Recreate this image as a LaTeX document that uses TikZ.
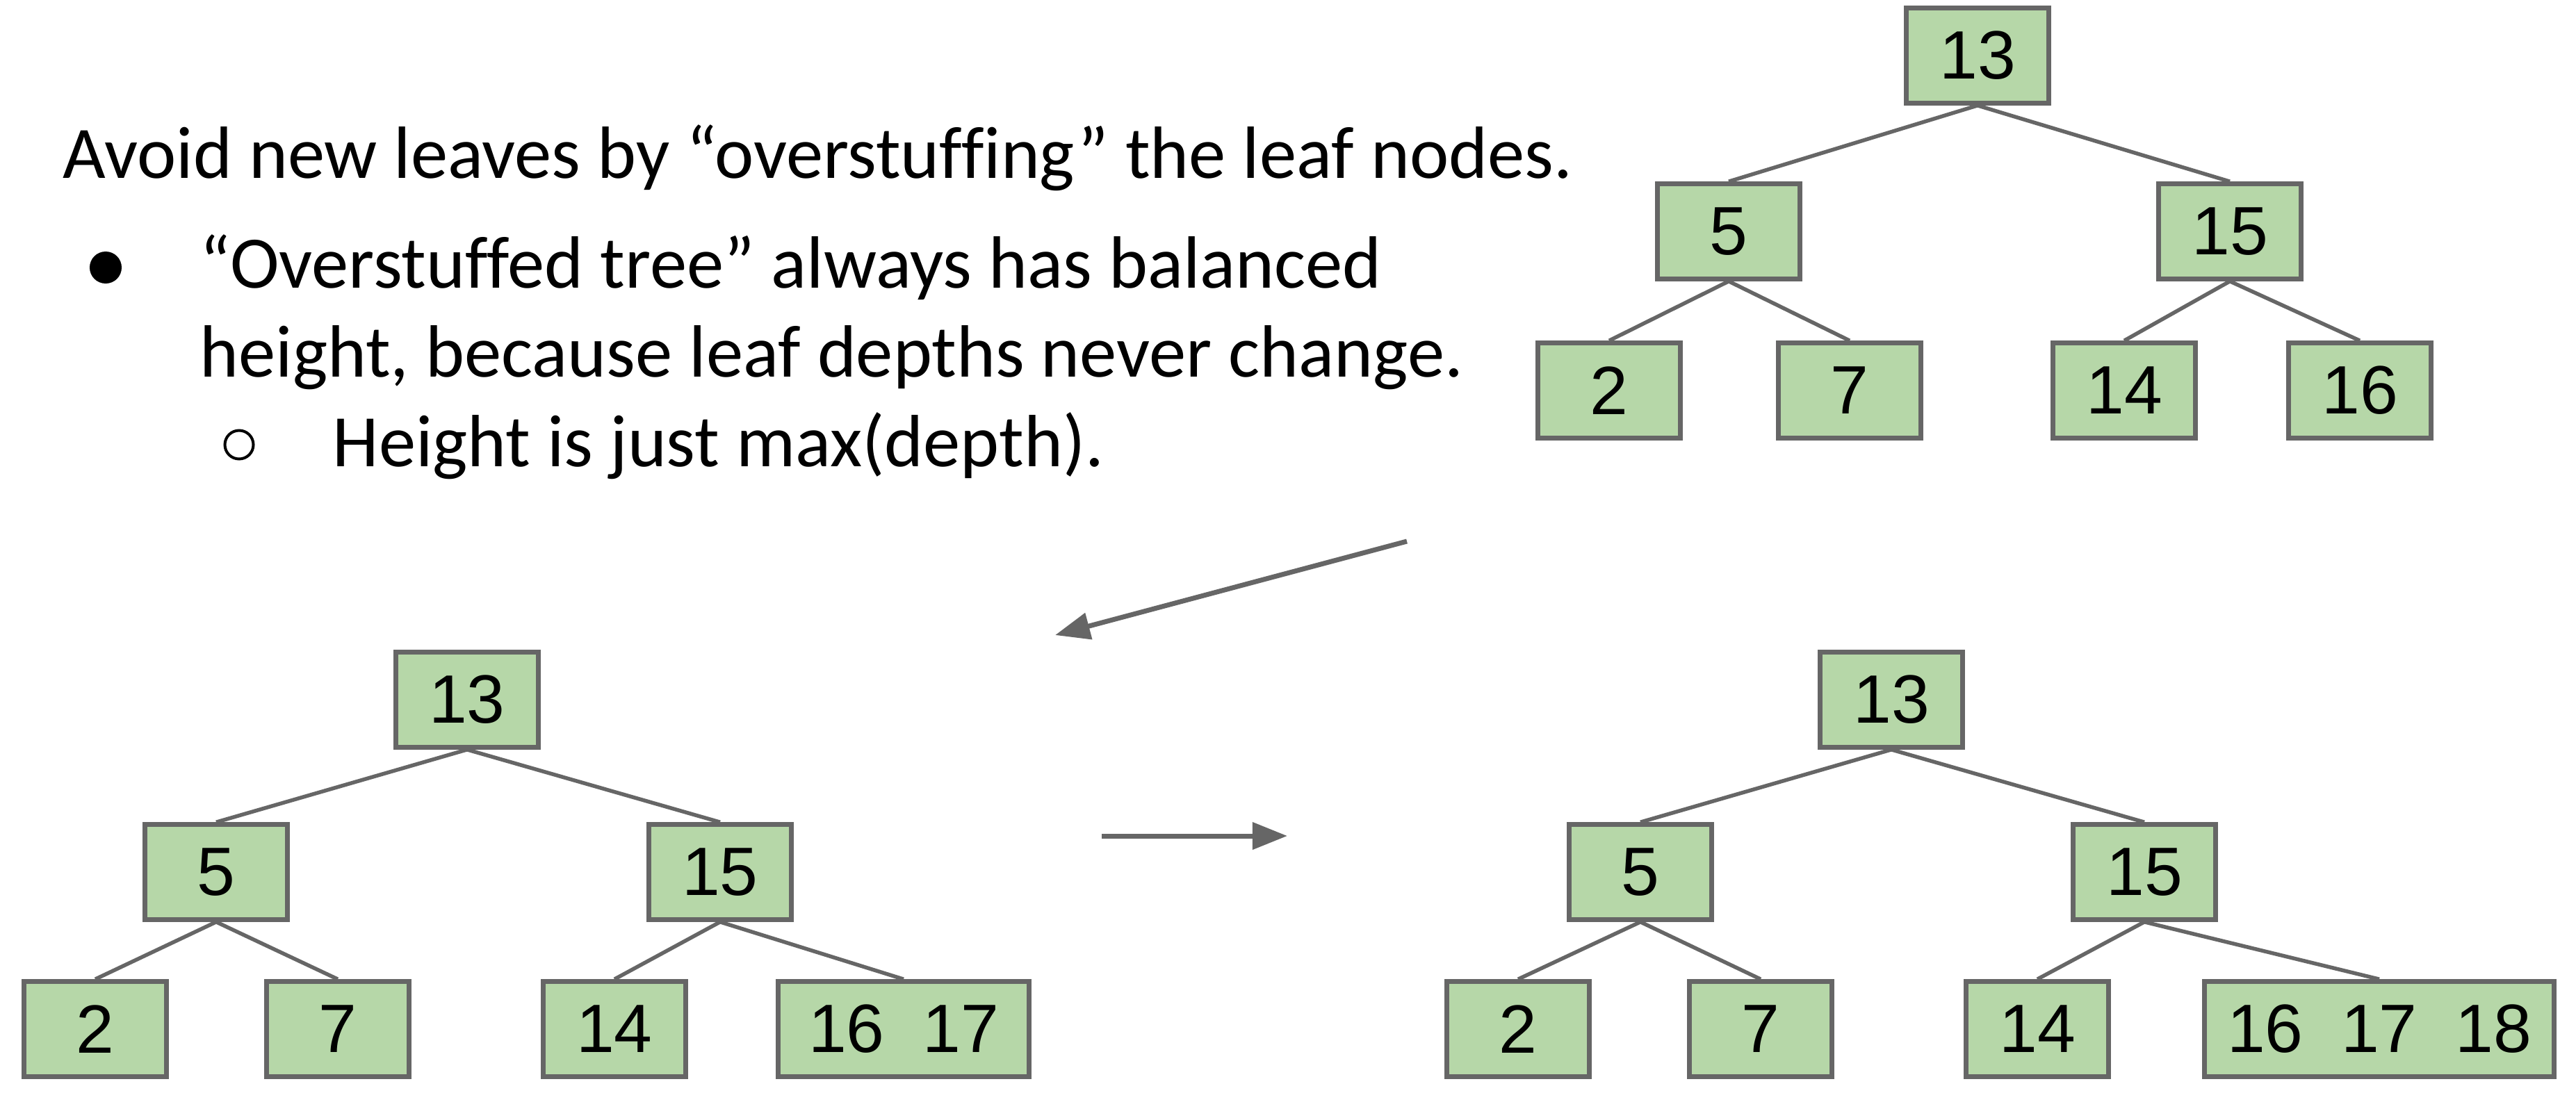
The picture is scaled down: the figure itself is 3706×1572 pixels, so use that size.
\documentclass[tikz,border=0pt]{standalone}
\usepackage{fontspec}
\newfontfamily\carl[Ligatures=NoCommon]{Carlito}
\newfontfamily\arialf{Liberation Sans}
\usetikzlibrary{arrows.meta}
\definecolor{nfill}{HTML}{B6D7A8}
\definecolor{ngray}{HTML}{666666}
\tikzset{
  tnode/.style={draw=ngray, fill=nfill, line width=0.065cm, minimum width=2.05cm,
    minimum height=1.37cm, inner sep=0pt, font=\arialf\fontsize{28}{28}\selectfont},
  tedge/.style={draw=ngray, line width=0.055cm},
  bigarrow/.style={draw=ngray, line width=0.07cm, -{Triangle[length=0.5cm,width=0.38cm]}},
  txt/.style={anchor=base west, inner sep=0pt, font=\carl\fontsize{30.3}{30.3}\selectfont}
}
\begin{document}
\begin{tikzpicture}[x=0.01cm,y=-0.01cm]
\useasboundingbox[fill=white] (0,0) rectangle (3706,1572);

% text
\node[txt] (l1) at (90,256) {Avoid new leaves by “overstuffing” the leaf nodes.};
\node[circle, fill=black, inner sep=0pt, minimum size=0.46cm] (b1) at (152,385) {};
\node[txt] (l2) at (287,414) {“Overstuffed tree” always has balanced};
\node[txt] (l3) at (287,542) {height, because leaf depths never change.};
\node[circle, draw=black, line width=0.04cm, inner sep=0pt, minimum size=0.41cm] (b2) at (344,640) {};
\node[txt] (l4) at (478,671) {Height is just max(depth).};

% top tree
\node[tnode] (a13) at (2845,80) {13};
\node[tnode] (a5) at (2487,333) {5};
\node[tnode] (a15) at (3208,333) {15};
\node[tnode] (a2) at (2315,562) {2};
\node[tnode] (a7) at (2661,562) {7};
\node[tnode] (a14) at (3056,562) {14};
\node[tnode] (a16) at (3395,562) {16};
\draw[tedge] (a13.south) -- (a5.north);
\draw[tedge] (a13.south) -- (a15.north);
\draw[tedge] (a5.south) -- (a2.north);
\draw[tedge] (a5.south) -- (a7.north);
\draw[tedge] (a15.south) -- (a14.north);
\draw[tedge] (a15.south) -- (a16.north);

% bottom-left tree
\node[tnode] (b13) at (672,1007) {13};
\node[tnode] (b5) at (311,1255) {5};
\node[tnode] (b15) at (1036,1255) {15};
\node[tnode] (b2n) at (137,1481) {2};
\node[tnode] (b7) at (486,1481) {7};
\node[tnode] (b14) at (884,1481) {14};
\node[tnode, minimum width=3.61cm] (b1617) at (1300,1481) {16\ \ 17};
\draw[tedge] (b13.south) -- (b5.north);
\draw[tedge] (b13.south) -- (b15.north);
\draw[tedge] (b5.south) -- (b2n.north);
\draw[tedge] (b5.south) -- (b7.north);
\draw[tedge] (b15.south) -- (b14.north);
\draw[tedge] (b15.south) -- (b1617.north);

% bottom-right tree
\node[tnode] (c13) at (2721,1007) {13};
\node[tnode] (c5) at (2360,1255) {5};
\node[tnode] (c15) at (3085,1255) {15};
\node[tnode] (c2) at (2184,1481) {2};
\node[tnode] (c7) at (2533,1481) {7};
\node[tnode] (c14) at (2931,1481) {14};
\node[tnode, minimum width=5.03cm] (c161718) at (3423,1481) {16\ \ 17\ \ 18};
\draw[tedge] (c13.south) -- (c5.north);
\draw[tedge] (c13.south) -- (c15.north);
\draw[tedge] (c5.south) -- (c2.north);
\draw[tedge] (c5.south) -- (c7.north);
\draw[tedge] (c15.south) -- (c14.north);
\draw[tedge] (c15.south) -- (c161718.north);

% arrows
\coordinate (d1) at (2024,779);
\coordinate (d2) at (1518,914);
\draw[bigarrow] (d1) -- (d2);
\coordinate (h1) at (1585,1203);
\coordinate (h2) at (1852,1203);
\draw[bigarrow] (h1) -- (h2);
\end{tikzpicture}
\end{document}
